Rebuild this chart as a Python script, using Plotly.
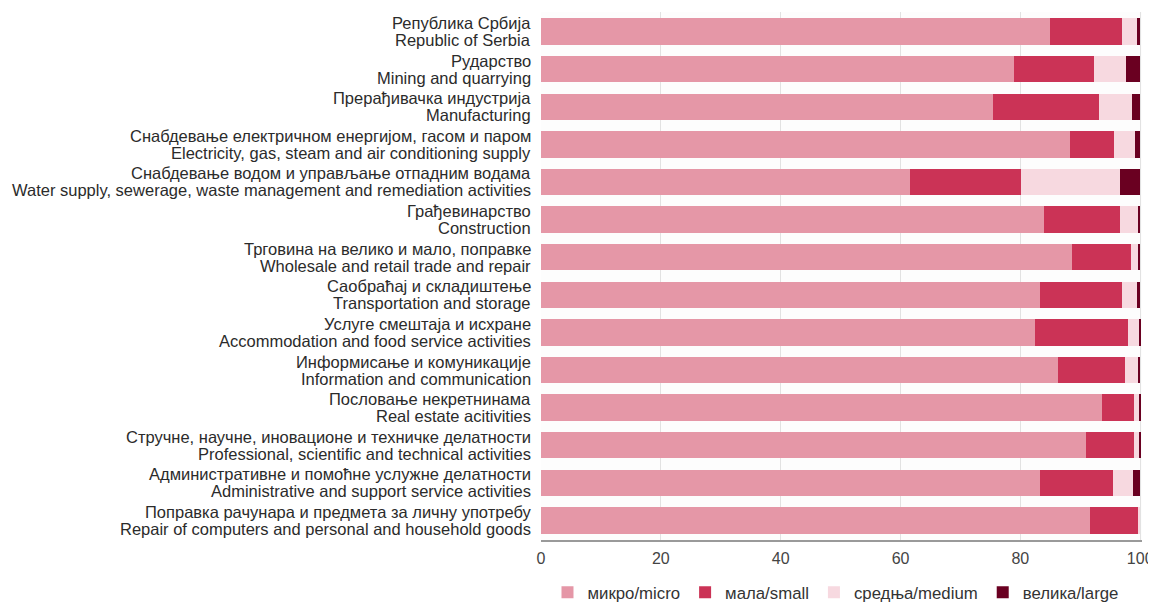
import plotly.graph_objects as go

sectors_sr = [
    "Република Србија", "Рударство", "Прерађивачка индустрија",
    "Снабдевање електричном енергијом, гасом и паром",
    "Снабдевање водом и управљање отпадним водама", "Грађевинарство",
    "Трговина на велико и мало, поправке", "Саобраћај и складиштење",
    "Услуге смештаја и исхране", "Информисање и комуникације",
    "Пословање некретнинама", "Стручне, научне, иновационе и техничке делатности",
    "Административне и помоћне услужне делатности",
    "Поправка рачунара и предмета за личну употребу",
]
sectors_en = [
    "Republic of Serbia", "Mining and quarrying", "Manufacturing",
    "Electricity, gas, steam and air conditioning supply",
    "Water supply, sewerage, waste management and remediation activities",
    "Construction", "Wholesale and retail trade and repair",
    "Transportation and storage", "Accommodation and food service activities",
    "Information and communication", "Real estate acitivities",
    "Professional, scientific and technical activities",
    "Administrative and support service activities",
    "Repair of computers and personal and household goods",
]

micro = [85.0, 79.0, 75.5, 88.2, 61.5, 83.9, 88.6, 83.3, 82.4, 86.3, 93.6, 90.9, 83.3, 91.7]
small = [11.9, 13.3, 17.7, 7.5, 18.6, 12.7, 9.8, 13.6, 15.5, 11.1, 5.3, 8.0, 12.2, 8.0]
medium = [2.6, 5.3, 5.5, 3.5, 16.6, 3.1, 1.3, 2.6, 2.0, 2.2, 1.0, 1.0, 3.3, 0.3]
large = [0.5, 2.4, 1.3, 0.8, 3.3, 0.3, 0.3, 0.5, 0.1, 0.4, 0.1, 0.1, 1.2, 0.0]

series = [
    ("микро/micro", micro, "#E597A7"),
    ("мала/small", small, "#CB3356"),
    ("средња/medium", medium, "#F7D9E0"),
    ("велика/large", large, "#6A0021"),
]

FONT = "Liberation Sans, Arial, sans-serif"

fig = go.Figure()
for name, values, color in series:
    fig.add_trace(go.Bar(
        y=sectors_en, x=values, name=name, orientation="h",
        marker=dict(color=color, line=dict(width=0)),
    ))

# two-line category labels, tighter line spacing than plotly's tick labels
for sr, en in zip(sectors_sr, sectors_en):
    for text, shift in ((sr, 8.5), (en, -8.5)):
        fig.add_annotation(
            x=0, xref="paper", y=en, yref="y", yshift=shift, xshift=-8,
            text=text, showarrow=False, xanchor="right", yanchor="middle",
            font=dict(family=FONT, size=16.5, color="#2b2b2b"),
        )

fig.update_layout(
    width=1156, height=606, barmode="stack", bargap=0.3,
    margin=dict(l=533, r=22, t=4, b=50),
    paper_bgcolor="white", plot_bgcolor="#fdfdfd",
    font=dict(family=FONT, size=16, color="#444"),
    showlegend=True,
    legend=dict(
        orientation="h", x=0.49, xanchor="center", y=-0.066, yanchor="top",
        font=dict(family=FONT, size=16.8, color="#333"), itemwidth=30,
        traceorder="normal", itemclick=False,
    ),
)
fig.update_xaxes(
    range=[0, 100.3], tickvals=[0, 20, 40, 60, 80, 100],
    showgrid=True, gridcolor="#e2e2e2", gridwidth=1,
    zeroline=False, showline=True, linecolor="#9a9a9a", linewidth=1.5,
    ticks="", ticklabelstandoff=3, tickfont=dict(size=16, color="#444"),
)
fig.update_yaxes(
    categoryorder="array", categoryarray=sectors_en, autorange="reversed",
    showticklabels=False, showgrid=False, zeroline=False,
)

fig.write_html("out.html")
